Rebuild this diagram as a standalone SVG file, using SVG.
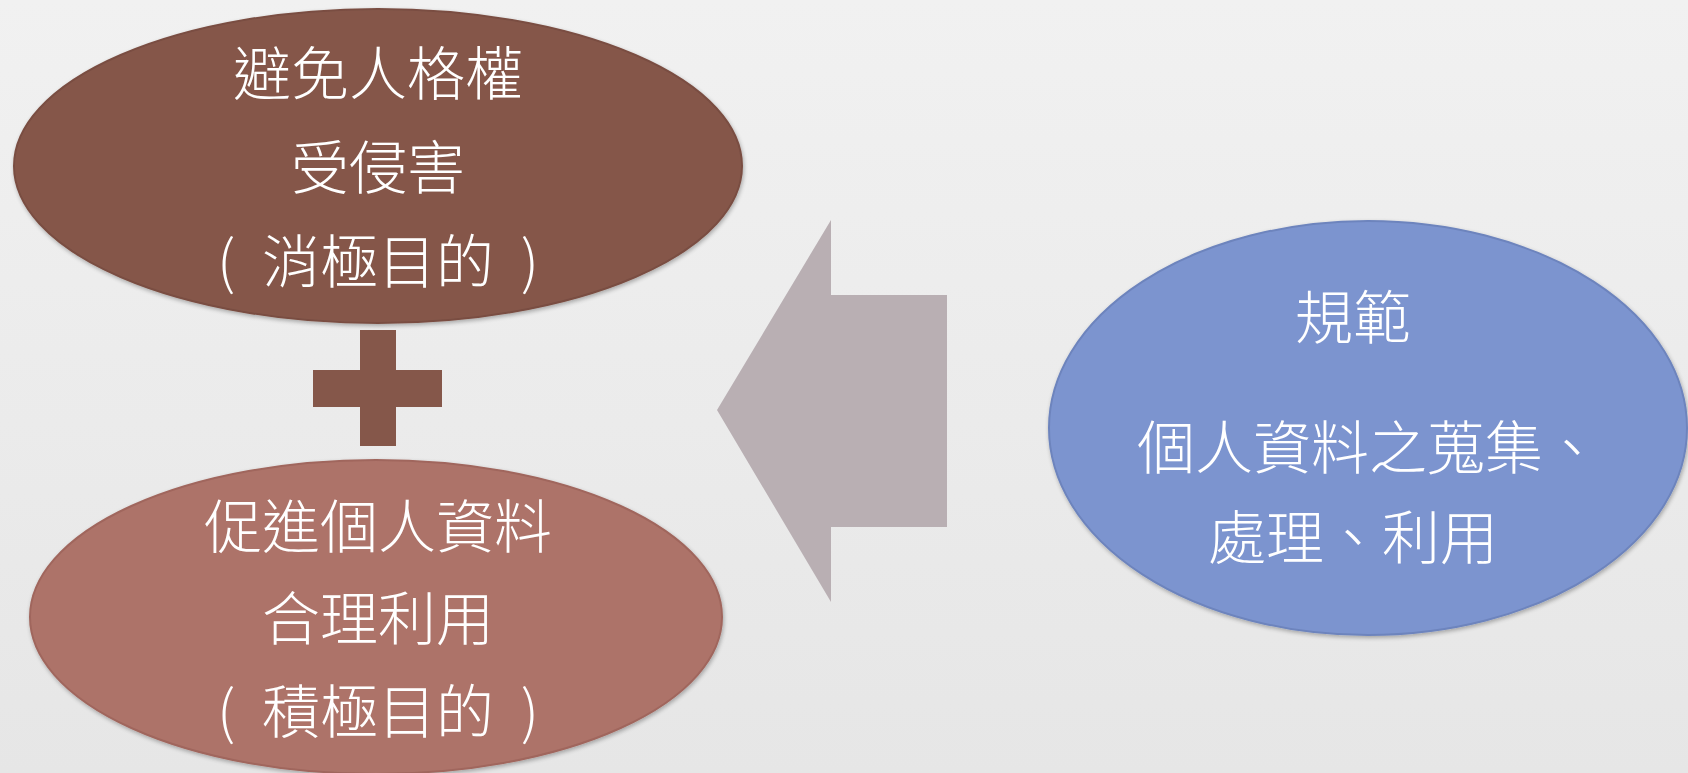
<svg xmlns="http://www.w3.org/2000/svg" width="1688" height="773" viewBox="0 0 1688 773">
<defs>
<linearGradient id="bg" x1="0" y1="0" x2="0" y2="1">
<stop offset="0" stop-color="#F1F1F1"/>
<stop offset="1" stop-color="#E6E6E6"/>
</linearGradient>
<filter id="sh" x="-10%" y="-10%" width="120%" height="120%">
<feGaussianBlur in="SourceAlpha" stdDeviation="2"/>
<feOffset dx="1" dy="2" result="b"/>
<feComponentTransfer><feFuncA type="linear" slope="0.3"/></feComponentTransfer>
<feMerge><feMergeNode/><feMergeNode in="SourceGraphic"/></feMerge>
</filter>
</defs>
<style>
.t{font-family:"Noto Sans CJK TC","Noto Sans CJK SC",sans-serif;font-weight:300;font-size:58px;fill:#FFFFFF;text-anchor:middle}
.p{word-spacing:14px}
.e1{fill:#85574A;stroke:#7A4E42;stroke-width:2}
.e2{fill:#AD7369;stroke:#A0665D;stroke-width:2}
.e3{fill:#7C94CF;stroke:#6D84BD;stroke-width:2}
</style>
<rect width="1688" height="773" fill="url(#bg)"/>
<g id="connectors">
<polygon points="717,410 831,220 831,295 947,295 947,527 831,527 831,602" fill="#B9AFB3"/>
</g>
<g id="node-negative" filter="url(#sh)">
<ellipse class="e1" cx="378" cy="166" rx="364" ry="157"/>
<text class="t" x="378" y="95">避免人格權</text>
<text class="t" x="378" y="189">受侵害</text>
<text class="t p" x="378" y="283">( 消極目的 )</text>
</g>
<g id="plus">
<rect x="360" y="330" width="36" height="116" fill="#85574A"/>
<rect x="313" y="370" width="129" height="37" fill="#85574A"/>
</g>
<g id="node-positive" filter="url(#sh)">
<ellipse class="e2" cx="376" cy="617" rx="346" ry="157"/>
<text class="t" x="378" y="548">促進個人資料</text>
<text class="t" x="378" y="640">合理利用</text>
<text class="t p" x="378" y="733">( 積極目的 )</text>
</g>
<g id="node-regulate" filter="url(#sh)">
<ellipse class="e3" cx="1368" cy="428" rx="319" ry="207"/>
<text class="t" x="1353" y="339">規範</text>
<text class="t" x="1369" y="469">個人資料之蒐集、</text>
<text class="t" x="1353" y="559">處理、利用</text>
</g>
</svg>
